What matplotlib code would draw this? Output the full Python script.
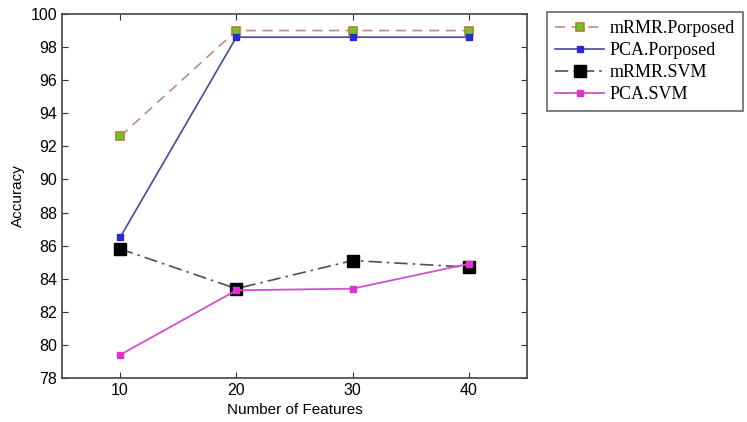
import matplotlib
matplotlib.use("Agg")
import matplotlib.pyplot as plt

features = [10, 20, 30, 40]
mrmr_proposed = [92.6, 99.0, 99.0, 99.0]
pca_proposed = [86.5, 98.6, 98.6, 98.6]
mrmr_svm = [85.8, 83.4, 85.1, 84.7]
pca_svm = [79.4, 83.3, 83.4, 84.9]
labels = ["mRMR.Porposed", "PCA.Porposed", "mRMR.SVM", "PCA.SVM"]
xticks = [10, 20, 30, 40]
yticks = list(range(78, 101, 2))

fig = plt.figure(figsize=(7.47, 4.22), dpi=100)
ax = fig.add_axes([62/747, 1-378/422, (527-62)/747, (378-14)/422])

ax.plot(features, mrmr_proposed, linestyle=(0, (6, 4)), color="#c08a8a", lw=1.2,
        marker="s", markersize=6, markerfacecolor="#66cc22", markeredgecolor="#c07830",
        markeredgewidth=1.2, label=labels[0])
ax.plot(features, pca_proposed, linestyle="-", color="#4848a0", lw=1.2,
        marker="s", markersize=4.5, markerfacecolor="#2a2ad0", markeredgecolor="#2a2ad0",
        label=labels[1])
ax.plot(features, mrmr_svm, linestyle=(0, (8, 3, 1.5, 3)), color="#505050", lw=1.2,
        marker="s", markersize=8.5, markerfacecolor="black", markeredgecolor="black",
        label=labels[2])
ax.plot(features, pca_svm, linestyle="-", color="#d050d0", lw=1.3,
        marker="s", markersize=5, markerfacecolor="#e030d0", markeredgecolor="#e030d0",
        label=labels[3])

ax.set_xlim(5, 45)
ax.set_ylim(78, 100)
ax.set_xticks(xticks)
ax.set_yticks(yticks)
ax.tick_params(direction="in", top=True, right=True, length=4.5, labelsize=11.5, color="#333333")
for lab in ax.get_xticklabels() + ax.get_yticklabels():
    lab.set_family("Liberation Sans")
for s in ax.spines.values():
    s.set_color("#444444")
    s.set_linewidth(1.2)

ax.set_xlabel("Number of Features", fontsize=11, family="Liberation Sans")
ax.set_ylabel("Accuracy", fontsize=11, family="Liberation Sans")

leg = fig.legend(loc="upper left", bbox_to_anchor=(547/747, 1-12/422),
                 prop={"family": "Liberation Serif", "size": 13},
                 frameon=True, fancybox=False, edgecolor="#444444",
                 handlelength=2.7, borderaxespad=0, labelspacing=0.28,
                 handletextpad=0.3, borderpad=0.45)
leg.get_frame().set_linewidth(1.2)

fig.savefig("out.png", dpi=100)
